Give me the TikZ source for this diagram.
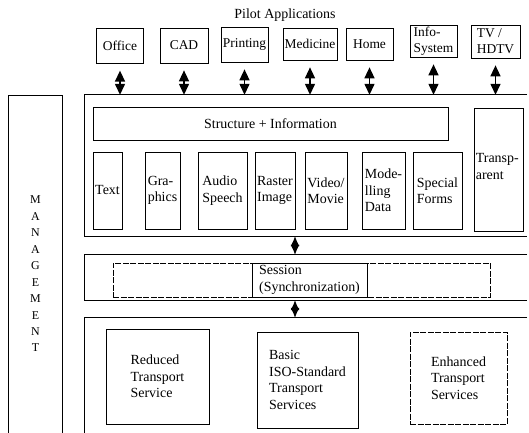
\documentclass[tikz,border=0pt]{standalone}
\usepackage{fontspec}
\setmainfont{Liberation Serif}
\usetikzlibrary{arrows.meta}
\newcommand\myfs{\fontsize{14}{16.5}\selectfont}
\newcommand\appfs{\fontsize{13.5}{16}\selectfont}
\newcommand\mgfs{\fontsize{12}{16.5}\selectfont}
\begin{document}
\begin{tikzpicture}[x=1bp,y=-1bp,
  box/.style={draw, line width=0.7bp, inner sep=0pt, align=left, font=\myfs},
  appbox/.style={box, font=\appfs},
  region/.style={inner sep=0pt, minimum width=442bp},
  frameline/.style={line width=0.8bp},
  dblarrow/.style={{Triangle[width=10bp,length=11bp]}-{Triangle[width=10bp,length=11bp]}, line width=1.4bp},
  spindle/.style={{Latex[width=9bp,length=10bp]}-{Latex[width=9bp,length=10bp]}, line width=1bp}]
\useasboundingbox (0,0) rectangle (529,433);

% title
\node[font=\myfs] (title) at (285,15) {Pilot Applications};

% application boxes
\node[appbox, minimum width=46.6bp, minimum height=35bp] (office)   at (120,45.8)  {Office};
\node[appbox, minimum width=48bp,   minimum height=35bp] (cad)      at (184,45.5)  {CAD};
\node[appbox, minimum width=47bp,   minimum height=35bp] (printing) at (244.5,44.5) {Printing};
\node[appbox, minimum width=54bp,   minimum height=32bp] (medicine) at (310,44)    {Medicine};
\node[appbox, minimum width=47bp,   minimum height=32bp] (home)     at (369.5,44)  {Home};
\node[appbox, minimum width=47bp,   minimum height=32bp] (info)     at (433.5,41)  {Info-\\System};
\node[appbox, minimum width=49bp,   minimum height=33bp] (tv)       at (495.5,41.5) {TV /\\HDTV};

% frame regions
\node[region, minimum height=141bp] (upper) at (306,165.5) {};
\node[region, minimum height=45bp]  (sess)  at (306,277.5) {};
\node[region, minimum height=115bp] (trans) at (306,375.5) {};
\draw[frameline] (upper.north east) -- (upper.north west) -- (upper.south west) -- (upper.south east);
\draw[frameline] (sess.north east) -- (sess.north west) -- (sess.south west) -- (sess.south east);
\draw[frameline] (trans.north east) -- (trans.north west) -- (trans.south west);

% management
\node[inner sep=0pt, minimum width=53bp, minimum height=356bp, align=center, font=\mgfs] (mgmt) at (35.5,274)
  {M\\A\\N\\A\\G\\E\\M\\E\\N\\T};
\draw[frameline] (mgmt.south west) -- (mgmt.north west) -- (mgmt.north east) -- (mgmt.south east);

% application arrows
\foreach \n in {office,cad,printing,medicine,home,info,tv}
  \draw[dblarrow] ([yshift=-7bp]\n.south) -- (\n.south |- upper.north);

% upper region contents
\node[box, minimum width=355bp, minimum height=33bp] (struct) at (270.5,123.5) {Structure + Information};
\node[box, minimum width=49bp, minimum height=123bp] (transp) at (498.5,169.5) {};
\node[font=\myfs, align=left, anchor=north west, inner sep=0pt] (transptext) at ([xshift=2bp,yshift=-46bp]transp.north west) {Transp-\\arent};

\node[box, minimum width=29bp, minimum height=77bp] (text)     at (107.5,190.5) {Text};
\node[box, minimum width=35bp, minimum height=77bp] (graphics) at (162.5,190.5) {Gra-\\phics};
\node[box, minimum width=49bp, minimum height=77bp] (audio)    at (222.5,190.5) {Audio\\Speech};
\node[box, minimum width=40bp, minimum height=77bp] (raster)   at (275,190.5)   {Raster\\Image};
\node[box, minimum width=42bp, minimum height=77bp] (video)    at (326,190.5)   {Video/\\Movie};
\node[box, minimum width=43bp, minimum height=77bp] (model)    at (383.5,190.5) {Mode-\\lling\\Data};
\node[box, minimum width=49bp, minimum height=77bp] (special)  at (437.5,190.5) {Special\\Forms};

% session
\node[box, dash pattern=on 6bp off 1.5bp, minimum width=377bp, minimum height=34bp] (sessouter) at (301.5,280) {};
\node[box, fill=white, minimum width=115bp, minimum height=34bp] (session) at (309.5,280) {Session\\(Synchronization)};

\coordinate (axis) at (295,0);
\draw[spindle] (axis |- upper.south) -- (axis |- sess.north);
\draw[spindle] (axis |- sess.south) -- (axis |- trans.north);

% transport
\node[box, minimum width=103bp, minimum height=95bp] (reduced)  at (157.5,376.5) {Reduced\\Transport\\Service};
\node[box, minimum width=101bp, minimum height=96bp] (basic)    at (307.5,380)   {Basic\\ISO-Standard\\Transport\\Services};
\node[box, dash pattern=on 6bp off 1.5bp, minimum width=97bp, minimum height=92bp] (enhanced) at (458.5,378) {Enhanced\\Transport\\Services};
\end{tikzpicture}
\end{document}
